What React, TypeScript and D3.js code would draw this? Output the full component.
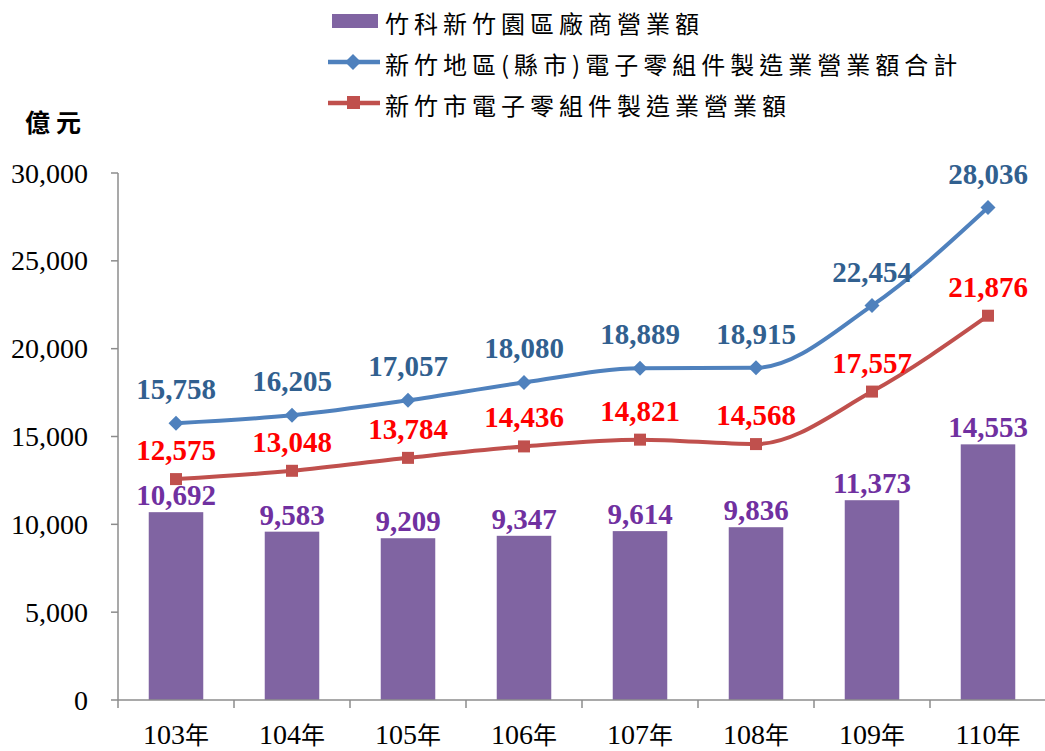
import React from "react";
import * as d3 from "d3";

const years = ["103年", "104年", "105年", "106年", "107年", "108年", "109年", "110年"];
const parkRevenue = [10692, 9583, 9209, 9347, 9614, 9836, 11373, 14553];
const regionTotal = [15758, 16205, 17057, 18080, 18889, 18915, 22454, 28036];
const cityRevenue = [12575, 13048, 13784, 14436, 14821, 14568, 17557, 21876];
const yTicks = [0, 5000, 10000, 15000, 20000, 25000, 30000];
const legendLabels = [
  "竹科新竹園區廠商營業額",
  "新竹地區(縣市)電子零組件製造業營業額合計",
  "新竹市電子零組件製造業營業額",
];

const W = 1045;
const H = 751;
const left = 118;
const right = 1046;
const top = 173;
const bottom = 700;

const SERIF = "'Times New Roman', 'Liberation Serif', serif";
const CJK = "'Noto Sans CJK TC', 'Noto Sans CJK JP', sans-serif";

export default function App() {
  const x = d3.scaleBand<string>().domain(years).range([left, right]).paddingInner(0).paddingOuter(0);
  const y = d3.scaleLinear().domain([0, 30000]).range([bottom, top]);
  const fmt = d3.format(",");
  const bw = x.bandwidth();
  const barW = bw * 0.47;
  const cx = (i: number) => (x(years[i]) as number) + bw / 2;

  const line = d3
    .line<number>()
    .x((_, i) => cx(i))
    .y((d) => y(d))
    .curve(d3.curveMonotoneX);

  const blue = "#4F81BD";
  const red = "#C0504D";
  const purple = "#8064A2";
  const axisColor = "#8C8C8C";

  const diamond = (px: number, py: number, s: number) =>
    `M${px},${py - s}L${px + s},${py}L${px},${py + s}L${px - s},${py}Z`;

  return (
    <svg
      width={W}
      height={H}
      style={{ position: "absolute", left: 0, top: 0, background: "#fff" }}
    >
      {/* bars */}
      {parkRevenue.map((v, i) => (
        <rect
          key={"b" + i}
          x={cx(i) - barW / 2}
          y={y(v)}
          width={barW}
          height={bottom - y(v)}
          fill={purple}
        />
      ))}
      {/* axes */}
      <line x1={left} x2={left} y1={top} y2={bottom} stroke={axisColor} strokeWidth={1.5} />
      <line x1={left} x2={right} y1={bottom} y2={bottom} stroke={axisColor} strokeWidth={1.5} />
      {yTicks.map((t) => (
        <g key={"yt" + t}>
          <line x1={left - 7} x2={left} y1={y(t)} y2={y(t)} stroke={axisColor} strokeWidth={1.5} />
          <text
            x={left - 30}
            y={y(t)}
            textAnchor="end"
            dominantBaseline="central"
            fontFamily={SERIF}
            fontSize={28}
            fill="#000"
          >
            {fmt(t)}
          </text>
        </g>
      ))}
      {years.map((yr, i) => (
        <g key={"xt" + i}>
          <line
            x1={x(yr) as number}
            x2={x(yr) as number}
            y1={bottom}
            y2={bottom + 8}
            stroke={axisColor}
            strokeWidth={1.5}
          />
          <text
            x={cx(i)}
            y={744}
            textAnchor="middle"
            fontFamily={SERIF}
            fontSize={28}
            fill="#000"
          >
            {yr.replace("年", "")}
            <tspan fontFamily={CJK} fontSize={24}>年</tspan>
          </text>
        </g>
      ))}
      {/* lines */}
      <path d={line(cityRevenue) || ""} fill="none" stroke={red} strokeWidth={4} />
      <path d={line(regionTotal) || ""} fill="none" stroke={blue} strokeWidth={4} />
      {cityRevenue.map((v, i) => (
        <rect key={"rm" + i} x={cx(i) - 6} y={y(v) - 6} width={12} height={12} fill={red} />
      ))}
      {regionTotal.map((v, i) => (
        <path key={"bm" + i} d={diamond(cx(i), y(v), 7.5)} fill={blue} />
      ))}
      {/* data labels */}
      {parkRevenue.map((v, i) => (
        <text
          key={"pl" + i}
          x={cx(i)}
          y={y(v) - 7}
          textAnchor="middle"
          fontFamily={SERIF}
          fontWeight="bold"
          fontSize={29}
          fill="#7030A0"
        >
          {fmt(v)}
        </text>
      ))}
      {cityRevenue.map((v, i) => (
        <text
          key={"cl" + i}
          x={cx(i)}
          y={y(v) - 19}
          textAnchor="middle"
          fontFamily={SERIF}
          fontWeight="bold"
          fontSize={29}
          fill="#FF0000"
        >
          {fmt(v)}
        </text>
      ))}
      {regionTotal.map((v, i) => (
        <text
          key={"rl" + i}
          x={cx(i)}
          y={y(v) - 24}
          textAnchor="middle"
          fontFamily={SERIF}
          fontWeight="bold"
          fontSize={29}
          fill="#31608F"
        >
          {fmt(v)}
        </text>
      ))}
      {/* unit label */}
      <text
        x={25}
        y={121}
        dominantBaseline="central"
        fontFamily={CJK}
        fontWeight="bold"
        fontSize={25}
        letterSpacing={6}
        fill="#000"
      >
        億元
      </text>
      {/* legend */}
      <rect x={332} y={14} width={46} height={14} fill={purple} />
      <line x1={328} x2={380} y1={62} y2={62} stroke={blue} strokeWidth={4.5} />
      <path d={diamond(353, 62, 8)} fill={blue} />
      <line x1={328} x2={380} y1={103} y2={103} stroke={red} strokeWidth={4.5} />
      <rect x={347} y={96} width={13} height={13} fill={red} />
      {legendLabels.map((lab, i) => (
        <text
          key={"lg" + i}
          x={385}
          y={[22, 63, 104][i]}
          dominantBaseline="central"
          fontFamily={CJK}
          fontSize={24}
          letterSpacing={5}
          fill="#000"
        >
          {lab}
        </text>
      ))}
    </svg>
  );
}
